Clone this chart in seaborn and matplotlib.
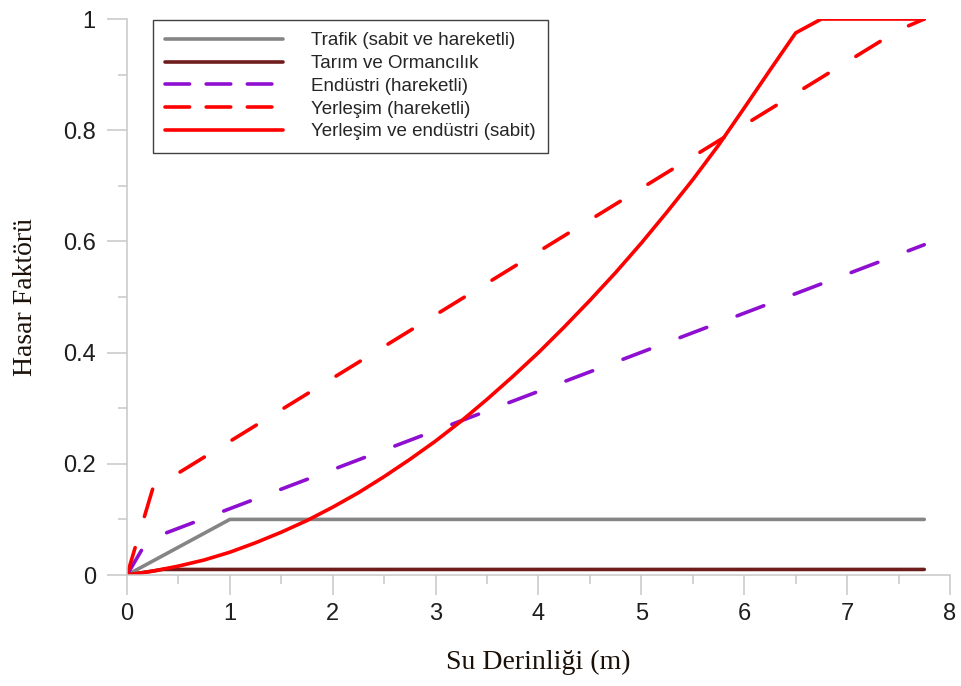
import matplotlib
matplotlib.use("Agg")
import matplotlib.pyplot as plt
from matplotlib.ticker import MultipleLocator
import seaborn as sns

# Hasar fonksiyonlari
depth_trafik = [0, 1, 7.75]
hasar_trafik = [0, 0.1, 0.1]

depth_tarim = [0, 0.35, 7.75]
hasar_tarim = [0, 0.01, 0.01]

depth_endustri_h = [0, 0.2, 7.75]
hasar_endustri_h = [0, 0.063, 0.594]

depth_yerlesim_h = [0, 0.25, 7.5, 7.75]
hasar_yerlesim_h = [0, 0.155, 0.98, 1.0]

depth_sabit = [0, 0.25, 0.5, 0.75, 1, 1.25, 1.5, 1.75, 2, 2.25, 2.5, 2.75,
               3, 3.25, 3.5, 3.75, 4, 4.25, 4.5, 4.75, 5, 5.25, 5.5, 5.75,
               6, 6.25, 6.5, 6.75, 7.75]
hasar_sabit = [0, 0.007, 0.016, 0.027, 0.041, 0.058, 0.077, 0.098, 0.122,
               0.148, 0.177, 0.208, 0.241, 0.277, 0.316, 0.357, 0.40, 0.446,
               0.494, 0.544, 0.597, 0.653, 0.711, 0.773, 0.84, 0.908, 0.975,
               1.0, 1.0]

labels = ["Trafik (sabit ve hareketli)", "Tarım ve Ormancılık",
          "Endüstri (hareketli)", "Yerleşim (hareketli)",
          "Yerleşim ve endüstri (sabit)"]
ytick_values = [0, 0.2, 0.4, 0.6, 0.8, 1.0]
ytick_labels = ["0", "0.2", "0.4", "0.6", "0.8", "1"]
xtick_values = [0, 1, 2, 3, 4, 5, 6, 7, 8]

sns.set_theme(style="ticks")
plt.rcParams['font.family'] = ['Liberation Sans', 'DejaVu Sans']

fig = plt.figure(figsize=(9.62, 6.86), dpi=100)
ax = fig.add_axes([0.132, 0.1618, 0.8555, 0.8105])

dash_plot = (0, (7.9, 9.0))
series = [
    (depth_trafik, hasar_trafik, "#858585", "-"),
    (depth_tarim, hasar_tarim, "#6e1c1c", "-"),
    (depth_endustri_h, hasar_endustri_h, "#8e0fd0", dash_plot),
    (depth_yerlesim_h, hasar_yerlesim_h, "#ff0000", dash_plot),
    (depth_sabit, hasar_sabit, "#ff0000", "-"),
]
for (xs, ys, col, ls), lab in zip(series, labels):
    sns.lineplot(x=xs, y=ys, ax=ax, color=col, linestyle=ls, linewidth=2.6,
                 label=lab, errorbar=None, dash_capstyle="round",
                 solid_capstyle="round", solid_joinstyle="round")

ax.set_xlim(0, 8)
ax.set_ylim(0, 1)
ax.set_xticks(xtick_values)
ax.set_yticks(ytick_values)
ax.set_yticklabels(ytick_labels)
ax.xaxis.set_minor_locator(MultipleLocator(0.5))
ax.yaxis.set_minor_locator(MultipleLocator(0.1))

axis_grey = "#c8c8c8"
for side in ["top", "right"]:
    ax.spines[side].set_visible(False)
for side in ["left", "bottom"]:
    ax.spines[side].set_color(axis_grey)
    ax.spines[side].set_linewidth(1.1)
ax.tick_params(which="major", length=14.4, width=1.1, color=axis_grey,
               labelsize=17, labelcolor="#1e1e1e")
ax.tick_params(which="minor", length=6.5, width=1.1, color=axis_grey)
ax.tick_params(axis="x", which="major", pad=6)
ax.tick_params(axis="y", which="major", pad=8)

ax.set_xlabel("Su Derinliği (m)", fontsize=20, family=["Liberation Serif"],
              color="#1a1008")
ax.set_ylabel("Hasar Faktörü", fontsize=20, family=["Liberation Serif"],
              color="#1a1008")
ax.xaxis.set_label_coords(0.5, -0.135)
ax.yaxis.set_label_coords(-0.108, 0.5)

leg = ax.legend(loc="upper left", bbox_to_anchor=(0.0316, 0.998),
                borderaxespad=0, fontsize=13.5, handlelength=6.3,
                handletextpad=1.5, labelspacing=0.3, borderpad=0.65,
                fancybox=False, framealpha=1, edgecolor="#404040")
leg.get_frame().set_linewidth(1.0)
for line in leg.get_lines():
    if line.get_linestyle() != "-":
        line.set_linestyle((0, (6.8, 4.6)))

fig.savefig("out.png", dpi=100)
